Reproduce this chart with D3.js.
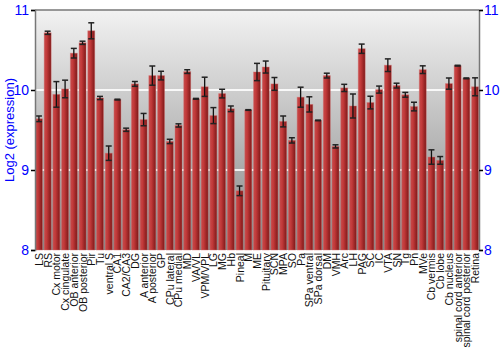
<!DOCTYPE html>
<html>
<head>
<meta charset="utf-8">
<script src="https://cdn.jsdelivr.net/npm/d3@7"></script>
<style>
  body { margin: 0; background: #fff; }
  svg { display: block; font-family: "Liberation Sans", Arial, sans-serif; }
</style>
</head>
<body>
<div id="chart"></div>
<script>
// tissues, in the order of the x axis
const regions = ["LS", "RS", "Cx motor", "Cx cingulate", "OB anterior", "OB posterior", "Pir", "Tu",
  "ventral S", "CA1", "CA2/CA3", "DG", "A anterior", "A posterior", "GP", "CPu lateral", "CPu medial",
  "MD", "VA/VL", "VPM/VPL", "LG", "MG", "Hb", "Pineal", "M", "ME", "Pituitary", "SCN", "MPA", "SO",
  "Pa", "SPa ventral", "SPa dorsal", "DM", "VMH", "Arc", "LH", "PAG", "SC", "IC", "VTA", "SN", "Tg",
  "Pn", "MVe", "Cb vermis", "Cb lobe", "Cb nucleus", "spinal cord anterior", "spinal cord posterior", "Retina"];

const expression = [9.64, 10.715, 9.945, 10.013, 10.46, 10.59, 10.74, 9.90,
  9.21, 9.88, 9.503, 10.076, 9.63, 10.18, 10.18, 9.357, 9.557,
  10.23, 9.89, 10.04, 9.68, 9.955, 9.765, 8.74, 9.75, 10.225, 10.287, 10.076, 9.607, 9.37,
  9.91, 9.82, 9.62, 10.18, 9.295, 10.026, 9.80, 10.516, 9.843, 10.005, 10.31, 10.055, 9.94,
  9.793, 10.254, 9.162, 9.12, 10.08, 10.304, 10.146, 10.04];

const errors = [0.035, 0.02, 0.16, 0.11, 0.06, 0.02, 0.1, 0.02,
  0.09, 0.005, 0.02, 0.03, 0.077, 0.12, 0.054, 0.027, 0.02,
  0.023, 0.005, 0.12, 0.1, 0.054, 0.035, 0.06, 0.004, 0.108, 0.075, 0.08, 0.068, 0.033,
  0.125, 0.095, 0.004, 0.03, 0.02, 0.045, 0.15, 0.058, 0.079, 0.044, 0.079, 0.03, 0.03,
  0.054, 0.048, 0.09, 0.048, 0.07, 0.005, 0.005, 0.112];

const yTicks = [8, 9, 10, 11];

const data = regions.map((r, i) => ({ region: r, value: expression[i], err: errors[i] }));

const margin = { top: 10, right: 21, bottom: 100, left: 35 },
      width = 500 - margin.left - margin.right,
      height = 350 - margin.top - margin.bottom;

const svgRoot = d3.select("#chart").append("svg")
    .attr("width", 500)
    .attr("height", 350);

const defs = svgRoot.append("defs");

const bg = defs.append("linearGradient")
    .attr("id", "bg").attr("x1", 0).attr("y1", 0).attr("x2", 0).attr("y2", 1);
bg.append("stop").attr("offset", "0%").attr("stop-color", "#f2f2f2");
bg.append("stop").attr("offset", "100%").attr("stop-color", "#868686");

const barGrad = defs.append("linearGradient")
    .attr("id", "bar").attr("x1", 0).attr("y1", 0).attr("x2", 1).attr("y2", 0);
barGrad.append("stop").attr("offset", "0%").attr("stop-color", "#c44a4a");
barGrad.append("stop").attr("offset", "35%").attr("stop-color", "#c33a3a");
barGrad.append("stop").attr("offset", "100%").attr("stop-color", "#7e1818");

const svg = svgRoot.append("g")
    .attr("transform", "translate(" + margin.left + "," + margin.top + ")");

const x = d3.scaleBand()
    .domain(regions)
    .range([0, width])
    .paddingInner(0.2)
    .paddingOuter(0.05);

const y = d3.scaleLinear()
    .domain([8, 11])
    .range([height, 0]);

// background
svg.append("rect")
    .attr("width", width)
    .attr("height", height)
    .attr("fill", "url(#bg)");

// grid lines
svg.selectAll(".grid")
  .data([9, 10])
  .enter().append("line")
    .attr("x1", 0).attr("x2", width)
    .attr("y1", d => y(d)).attr("y2", d => y(d))
    .attr("stroke", "#fff")
    .attr("stroke-opacity", 0.85)
    .attr("stroke-width", 2);

// bars
svg.selectAll(".bar")
  .data(data)
  .enter().append("rect")
    .attr("class", "bar")
    .attr("x", d => x(d.region))
    .attr("width", x.bandwidth())
    .attr("y", d => y(d.value))
    .attr("height", d => height - y(d.value))
    .attr("fill", "url(#bar)")
    .attr("stroke", "#d87070")
    .attr("stroke-opacity", 0.5)
    .attr("stroke-width", 0.8);

// error bars
const eb = svg.selectAll(".err")
  .data(data)
  .enter().append("g")
    .attr("transform", d => "translate(" + (x(d.region) + x.bandwidth() / 2) + ",0)");

eb.append("line")
    .attr("y1", d => y(d.value - d.err))
    .attr("y2", d => y(d.value + d.err))
    .attr("stroke", "#111")
    .attr("stroke-width", 1.3);

eb.selectAll(".cap")
  .data(d => [d.value - d.err, d.value + d.err])
  .enter().append("line")
    .attr("x1", -3).attr("x2", 3)
    .attr("y1", v => y(v)).attr("y2", v => y(v))
    .attr("stroke", "#222")
    .attr("stroke-width", 1.5);

// frame
svg.append("line")
    .attr("x1", 0).attr("x2", width)
    .attr("y1", 0).attr("y2", 0)
    .attr("stroke", "#777").attr("stroke-width", 1.5);

const yLeft = svg.append("g")
    .call(d3.axisLeft(y).tickValues(yTicks).tickSize(4).tickPadding(2).tickFormat(d3.format("d")));
const yRight = svg.append("g")
    .attr("transform", "translate(" + width + ",0)")
    .call(d3.axisRight(y).tickValues(yTicks).tickSize(4).tickPadding(1).tickFormat(d3.format("d")));

[yLeft, yRight].forEach(g => {
  g.select(".domain").attr("stroke", "#777").attr("stroke-width", 1.5);
  g.selectAll(".tick line").attr("stroke", "#000").attr("stroke-width", 1.5);
  g.selectAll(".tick text")
    .attr("fill", "#0000ff")
    .style("font-size", "14px")
    .style("font-family", "Liberation Sans, Arial, sans-serif");
});

// x labels
svg.append("g")
    .selectAll("text")
  .data(regions)
  .enter().append("text")
    .attr("transform", d => "translate(" + (x(d) + x.bandwidth() / 2 + 4) + "," + (height + 3) + ") rotate(-90)")
    .style("text-anchor", "end")
    .style("font-size", "10.5px")
    .attr("fill", "#111")
    .text(d => d);

// y axis label
svg.append("text")
    .attr("transform", "rotate(-90)")
    .attr("x", -(height / 2))
    .attr("y", -margin.left + 14)
    .style("text-anchor", "middle")
    .style("font-size", "13px")
    .attr("fill", "#0000ff")
    .text("Log2 (expression)");
</script>
</body>
</html>
